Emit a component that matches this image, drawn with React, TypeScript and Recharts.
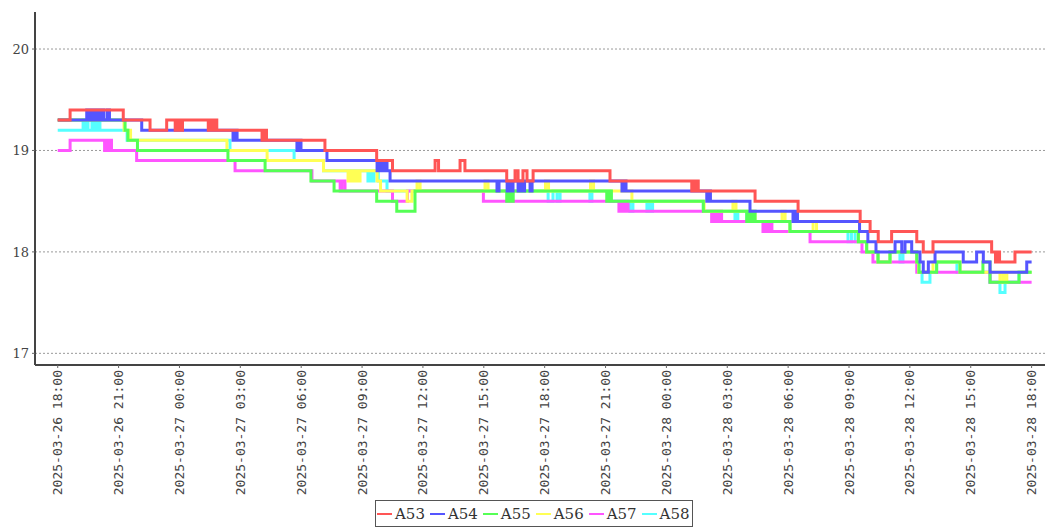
import { LineChart, Line, XAxis, YAxis, CartesianGrid } from "recharts";

// hours after 2025-03-26 18:00, value
const a53: [number, number][] = [
  [0, 19.3], [0.61, 19.4], [3.23, 19.3], [4.55, 19.2], [5.37, 19.3], [5.79, 19.2], [5.9, 19.3], [6.03, 19.2], [6.15, 19.3],
  [7.42, 19.2], [7.53, 19.3], [7.63, 19.2], [7.73, 19.3], [7.84, 19.2], [10.07, 19.1], [10.17, 19.2], [10.29, 19.1],
  [13.17, 19.0], [15.72, 18.9], [16.5, 18.8], [18.6, 18.9], [18.77, 18.8], [19.83, 18.9], [20.07, 18.8], [22.13, 18.7],
  [22.54, 18.8], [22.69, 18.7], [22.93, 18.8], [23.13, 18.7], [23.43, 18.8], [27.22, 18.7], [31.25, 18.6], [31.34, 18.7],
  [31.43, 18.6], [31.51, 18.7], [31.57, 18.6], [34.37, 18.5], [36.49, 18.4], [39.55, 18.3], [40.04, 18.2], [40.44, 18.1],
  [41.1, 18.2], [42.34, 18.1], [42.66, 18.0], [43.14, 18.1], [46.03, 18.0], [46.22, 17.9], [46.32, 18.0], [46.42, 17.9],
  [47.18, 18.0], [48, 18.0],
];
const a54: [number, number][] = [
  [0, 19.3], [1.43, 19.4], [1.52, 19.3], [1.59, 19.4], [1.69, 19.3], [1.76, 19.4], [1.84, 19.3], [1.91, 19.4], [2.04, 19.3],
  [2.18, 19.4], [2.28, 19.3], [2.45, 19.4], [2.55, 19.3], [4.14, 19.2], [8.64, 19.1], [8.74, 19.2], [8.84, 19.1],
  [11.79, 19.0], [11.9, 19.1], [11.99, 19.0], [13.27, 18.9], [15.74, 18.8], [15.86, 18.9], [15.98, 18.8], [16.1, 18.9],
  [16.23, 18.8], [16.38, 18.7], [21.65, 18.6], [21.75, 18.7], [22.15, 18.6], [22.24, 18.7], [22.34, 18.6], [22.44, 18.7],
  [22.69, 18.6], [22.79, 18.7], [22.88, 18.6], [23.01, 18.7], [23.28, 18.6], [23.38, 18.7], [27.81, 18.6], [27.91, 18.7],
  [28.01, 18.6], [31.99, 18.5], [32.08, 18.6], [32.17, 18.5], [34.12, 18.4], [36.24, 18.3], [36.36, 18.4], [36.46, 18.3],
  [39.52, 18.2], [39.93, 18.1], [40.33, 18.0], [41.27, 18.1], [41.6, 18.0], [41.76, 18.1], [42.09, 18.0], [42.5, 17.9],
  [42.66, 17.8], [42.91, 17.9], [43.24, 18.0], [44.63, 17.9], [45.29, 18.0], [45.62, 17.9], [45.95, 17.8], [47.76, 17.9],
  [48, 17.9],
];
const a55: [number, number][] = [
  [0, 19.3], [3.32, 19.2], [3.46, 19.1], [3.93, 19.0], [8.39, 18.9], [10.22, 18.8], [12.48, 18.7], [13.62, 18.6],
  [15.72, 18.5], [16.71, 18.4], [17.61, 18.6], [22.13, 18.5], [22.24, 18.6], [22.34, 18.5], [22.45, 18.6], [27.06, 18.5],
  [27.17, 18.6], [27.29, 18.5], [31.82, 18.4], [33.96, 18.3], [34.07, 18.4], [34.19, 18.3], [34.29, 18.4], [34.37, 18.3],
  [36.09, 18.2], [39.46, 18.1], [39.87, 18.0], [40.43, 17.9], [41.02, 18.0], [42.34, 17.9], [42.45, 17.8], [43.32, 17.9],
  [44.47, 17.8], [45.6, 17.9], [45.95, 17.7], [47.38, 17.8], [48, 17.8],
];
const a56: [number, number][] = [
  [0, 19.3], [3.27, 19.2], [3.59, 19.1], [8.34, 19.0], [10.32, 18.9], [13.1, 18.8], [14.31, 18.7], [14.43, 18.8],
  [14.53, 18.7], [14.65, 18.8], [14.78, 18.7], [14.9, 18.8], [15.74, 18.7], [15.91, 18.6], [17.22, 18.5], [17.46, 18.6],
  [17.71, 18.7], [17.86, 18.6], [21.06, 18.7], [21.21, 18.6], [24.04, 18.7], [24.19, 18.6], [26.26, 18.7], [26.41, 18.6],
  [28.3, 18.5], [31.86, 18.4], [33.28, 18.5], [33.43, 18.4], [34.37, 18.3], [35.7, 18.4], [35.85, 18.3], [36.09, 18.2],
  [37.23, 18.3], [37.4, 18.2], [39.46, 18.1], [39.87, 18.0], [40.43, 17.9], [41.02, 18.0], [42.34, 17.9], [42.43, 17.8],
  [43.14, 17.9], [44.47, 17.8], [46.44, 17.7], [46.59, 17.8], [46.68, 17.7], [46.78, 17.8], [48, 17.8],
];
const a57: [number, number][] = [
  [0, 19.0], [0.61, 19.1], [2.31, 19.0], [2.41, 19.1], [2.5, 19.0], [2.6, 19.1], [2.65, 19.0], [3.89, 18.9], [8.74, 18.8],
  [12.53, 18.7], [13.92, 18.6], [14.01, 18.7], [14.16, 18.6], [16.5, 18.5], [17.24, 18.6], [20.98, 18.5], [27.66, 18.4],
  [27.76, 18.5], [27.88, 18.4], [28.01, 18.5], [28.11, 18.4], [32.23, 18.3], [32.34, 18.4], [32.47, 18.3], [32.59, 18.4],
  [32.72, 18.3], [34.76, 18.2], [34.88, 18.3], [35.01, 18.2], [35.11, 18.3], [35.2, 18.2], [37.08, 18.1], [39.64, 18.0],
  [40.18, 17.9], [42.34, 17.8], [45.95, 17.7], [48, 17.7],
];
const a58: [number, number][] = [
  [0, 19.2], [1.25, 19.3], [1.35, 19.2], [1.42, 19.3], [1.49, 19.2], [1.69, 19.3], [1.79, 19.2], [1.86, 19.3], [1.96, 19.2],
  [2.04, 19.3], [2.08, 19.2], [3.42, 19.1], [8.49, 19.0], [11.65, 18.9], [13.1, 18.8], [15.29, 18.7], [15.39, 18.8],
  [15.49, 18.7], [15.59, 18.8], [15.8, 18.7], [16.23, 18.6], [24.17, 18.5], [24.41, 18.6], [24.61, 18.5], [24.76, 18.6],
  [26.23, 18.5], [26.33, 18.6], [27.22, 18.5], [28.2, 18.4], [28.35, 18.5], [29.04, 18.4], [29.13, 18.5], [29.23, 18.4],
  [29.32, 18.5], [31.82, 18.4], [33.38, 18.3], [33.52, 18.4], [33.96, 18.3], [36.09, 18.2], [38.95, 18.1], [39.12, 18.2],
  [39.3, 18.1], [39.87, 18.0], [40.43, 17.9], [41.02, 18.0], [41.51, 17.9], [41.66, 18.0], [42.34, 17.9], [42.45, 17.8],
  [42.6, 17.7], [42.99, 17.8], [43.32, 17.9], [44.32, 17.8], [45.95, 17.7], [46.44, 17.6], [46.69, 17.7], [47.38, 17.8],
  [48, 17.8],
];

const seriesNames = ["A53", "A54", "A55", "A56", "A57", "A58"];
const seriesColors = ["#ff5555", "#5555ff", "#55ff55", "#ffff55", "#ff55ff", "#55ffff"];
const seriesSteps = [a53, a54, a55, a56, a57, a58];

const xTicks = [0, 3, 6, 9, 12, 15, 18, 21, 24, 27, 30, 33, 36, 39, 42, 45, 48];
const xTickLabels = [
  "2025-03-26 18:00", "2025-03-26 21:00", "2025-03-27 00:00", "2025-03-27 03:00", "2025-03-27 06:00",
  "2025-03-27 09:00", "2025-03-27 12:00", "2025-03-27 15:00", "2025-03-27 18:00", "2025-03-27 21:00",
  "2025-03-28 00:00", "2025-03-28 03:00", "2025-03-28 06:00", "2025-03-28 09:00", "2025-03-28 12:00",
  "2025-03-28 15:00", "2025-03-28 18:00",
];
const yTicks = [17, 18, 19, 20];
const yDomain: [number, number] = [16.885, 20.365];

function XTick(props: any) {
  const { x, y, payload } = props;
  const label = xTickLabels[xTicks.indexOf(payload.value)] ?? "";
  return (
    <text x={x} y={y} transform={`rotate(-90 ${x} ${y})`} textAnchor="end" dominantBaseline="central"
      fontFamily="DejaVu Sans Mono" fontSize={13} fill="#444">
      {label}
    </text>
  );
}

// grid only at the y ticks (no line along the top edge)
function gridRows({ yAxis, offset }: any) {
  if (yAxis && typeof yAxis.scale === "function") return yTicks.map((t) => yAxis.scale(t));
  const [lo, hi] = yDomain;
  return yTicks.map((t) => offset.top + ((hi - t) / (hi - lo)) * offset.height);
}

export default function App() {
  // first series ends up on top, so render in reverse
  const order = [5, 4, 3, 2, 1, 0];
  return (
    <div style={{ position: "absolute", left: 0, top: 0, width: 1045, height: 529, background: "#fff" }}>
      <LineChart width={1045} height={529} margin={{ top: 12, right: 0, left: 0, bottom: 0 }}>
        <CartesianGrid vertical={false} stroke="#999" strokeDasharray="2 2" horizontalCoordinatesGenerator={gridRows} />
        <XAxis type="number" dataKey="t" domain={[-1.12, 48.66]} ticks={xTicks} interval={0} allowDataOverflow
          height={164} tickSize={3} tickMargin={2} tick={<XTick />}
          axisLine={{ stroke: "#444", strokeWidth: 2 }} tickLine={{ stroke: "#666" }} />
        <YAxis type="number" domain={yDomain} ticks={yTicks} allowDataOverflow width={35}
          tickSize={3} tickMargin={3} tick={{ fontFamily: "DejaVu Serif", fontSize: 13, fill: "#444" }}
          axisLine={{ stroke: "#444", strokeWidth: 2 }} tickLine={{ stroke: "#666" }} />
        {order.map((i) => (
          <Line key={seriesNames[i]} name={seriesNames[i]} data={seriesSteps[i].map(([t, v]) => ({ t, v }))}
            dataKey="v" type="stepAfter" stroke={seriesColors[i]} strokeWidth={3} dot={false} activeDot={false}
            isAnimationActive={false} />
        ))}
      </LineChart>
      <div style={{ position: "absolute", left: 375, top: 500, width: 318, height: 27, boxSizing: "border-box",
        border: "1px solid #555", display: "flex", alignItems: "center", paddingLeft: 1, background: "#fff" }}>
        {seriesNames.map((n, i) => (
          <div key={n} style={{ display: "flex", alignItems: "center", marginRight: 5 }}>
            <span style={{ display: "inline-block", width: 15, height: 2, background: seriesColors[i], marginRight: 3 }} />
            <span style={{ fontFamily: "DejaVu Serif", fontSize: 15, color: "#333" }}>{n}</span>
          </div>
        ))}
      </div>
    </div>
  );
}
